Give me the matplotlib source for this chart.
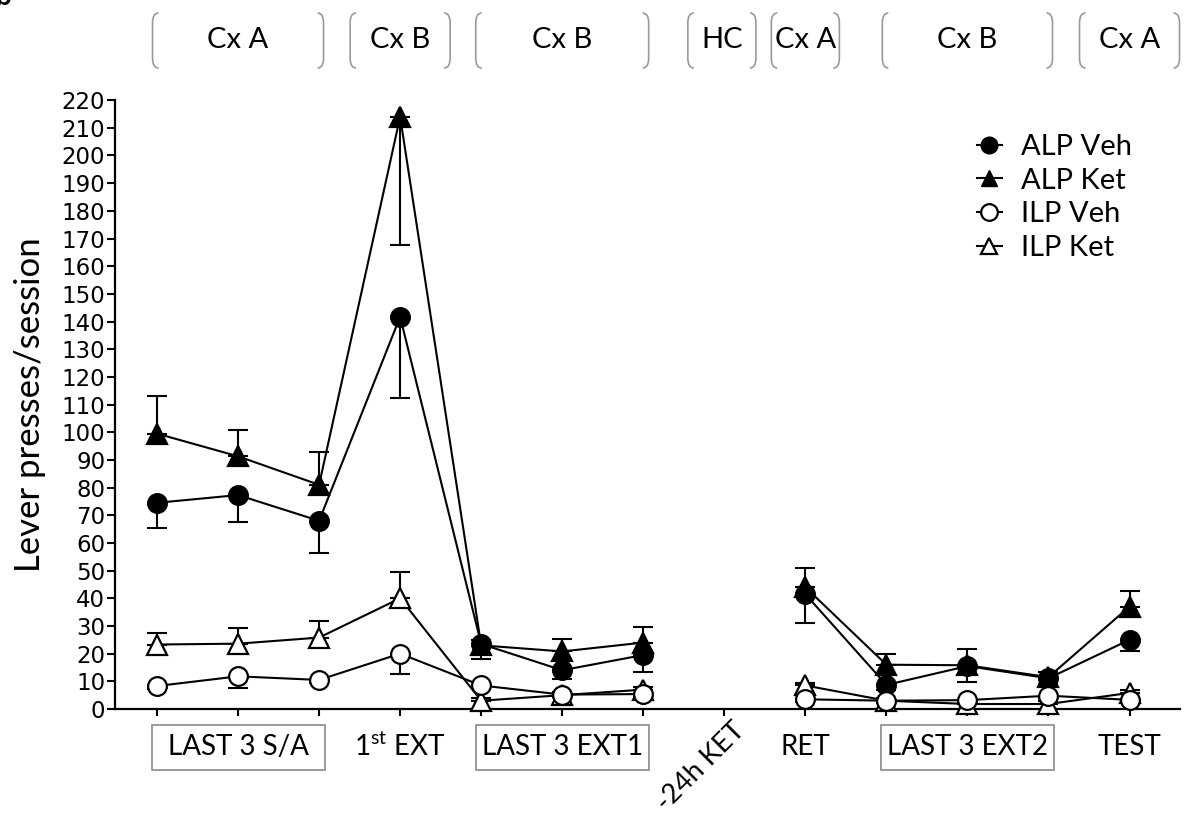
import numpy as np
import matplotlib.pyplot as plt
from matplotlib.path import Path
from matplotlib.patches import PathPatch, Rectangle
from matplotlib.lines import Line2D
from matplotlib.transforms import blended_transform_factory

plt.rcParams['font.family'] = ['Lato', 'DejaVu Sans']
plt.rcParams['mathtext.fontset'] = 'custom'
plt.rcParams['mathtext.rm'] = 'Lato'

nan = np.nan
sessions = np.arange(13)

# mean lever presses per session, one-sided SEM as drawn
alp_veh = [74.5, 77.3, 68.0, 141.7, 23.5, 14.0, 19.5, nan, 41.5, 8.7, 15.5, 11.1, 25.0]
alp_veh_err = [9.0, 9.7, 11.5, 29.2, 5.5, 3.0, 6.3, nan, 10.3, 2.0, 5.6, 2.0, 4.0]
alp_ket = [99.5, 91.3, 81.0, 214.0, 23.0, 20.8, 24.0, nan, 44.0, 16.0, 15.8, 11.5, 37.0]
alp_ket_err = [13.5, 9.5, 12.0, 46.5, 2.0, 4.5, 5.5, nan, 7.0, 4.0, 6.0, 2.0, 5.5]
ilp_veh = [8.3, 11.8, 10.5, 20.0, 8.5, 5.2, 5.4, nan, 3.5, 3.0, 3.2, 4.8, 3.3]
ilp_veh_err = [1.0, 4.3, 1.0, 7.2, 1.0, 1.0, 1.0, nan, 1.0, 1.0, 1.0, 1.0, 1.0]
ilp_ket = [23.3, 23.6, 25.8, 40.0, 3.0, 5.0, 7.0, nan, 8.5, 3.0, 1.8, 1.8, 5.8]
ilp_ket_err = [4.2, 5.6, 6.0, 9.4, 1.0, 1.0, 1.0, nan, 1.0, 1.0, 1.0, 1.0, 1.0]

# bottom labels: (centre session, text, boxed)
phase_labels = [(1, "LAST 3 S/A", True), (3, "1$^{\\mathrm{st}}$ EXT", False),
                (5, "LAST 3 EXT1", True), (8, "RET", False),
                (10, "LAST 3 EXT2", True), (12, "TEST", False)]
# top context brackets: (centre session, half width, text)
contexts = [(1, 1.055, "Cx A"), (3, 0.617, "Cx B"), (5, 1.067, "Cx B"),
            (6.97, 0.42, "HC"), (8, 0.42, "Cx A"), (10, 1.05, "Cx B"),
            (12, 0.617, "Cx A")]

fig = plt.figure(figsize=(11.87, 8.14), dpi=100)
ax = fig.add_axes([0.0969, 0.129, 0.897, 0.748])

# error bars: Veh downward, Ket upward (ALP Ket peak drawn downward)
zeros = np.zeros(13)
alp_ket_lo = np.where(sessions == 3, alp_ket_err, 0)
alp_ket_hi = np.where(sessions == 3, 0, alp_ket_err)
err_kw = dict(fmt='none', ecolor='black', elinewidth=1.5, capsize=7, capthick=1.5,
              clip_on=False, zorder=2)
ax.errorbar(sessions, alp_ket, yerr=[alp_ket_lo, alp_ket_hi], **err_kw)
ax.errorbar(sessions, alp_veh, yerr=[alp_veh_err, zeros], **err_kw)
ax.errorbar(sessions, ilp_ket, yerr=[zeros, ilp_ket_err], **err_kw)
ax.errorbar(sessions, ilp_veh, yerr=[ilp_veh_err, zeros], **err_kw)

line_kw = dict(color='black', lw=1.5, mec='black', mew=1.6, clip_on=False)
ax.plot(sessions, alp_ket, marker='^', ms=14, mfc='black', zorder=3, **line_kw)
ax.plot(sessions, alp_veh, marker='o', ms=13.5, mfc='black', zorder=4, **line_kw)
ax.plot(sessions, ilp_ket, marker='^', ms=14, mfc='white', zorder=5, **line_kw)
ax.plot(sessions, ilp_veh, marker='o', ms=13.5, mfc='white', zorder=6, **line_kw)

ax.set_xlim(-0.518, 12.62)
ax.set_ylim(0, 220)
ax.set_yticks(np.arange(0, 221, 10))
ax.set_xticks(sessions)
ax.set_xticklabels([])
for lab in ax.get_yticklabels():
    lab.set_fontfamily('DejaVu Sans')
ax.tick_params(axis='y', labelsize=16.5, length=6, width=1.5, pad=1)
ax.tick_params(axis='x', length=5, width=1.5)
for side in ['top', 'right']:
    ax.spines[side].set_visible(False)
for side in ['left', 'bottom']:
    ax.spines[side].set_linewidth(1.6)
ax.set_ylabel("Lever presses/session", fontsize=25, labelpad=11)

# bottom phase labels
trans = blended_transform_factory(ax.transData, ax.transAxes)
for xc, txt, boxed in phase_labels:
    ax.text(xc, -0.062, txt, transform=trans, ha='center', va='center', fontsize=20)
    if boxed:
        ax.add_patch(Rectangle((xc - 1.067, -0.100), 2.134, 0.074, transform=trans,
                               fill=False, ec='#8a8a8a', lw=1.2, clip_on=False))
ax.text(7.2, -0.028, "-24h KET", transform=trans, ha='right', va='center',
        rotation=45, rotation_mode='anchor', fontsize=19.5)

# top context brackets
W, H = 1187.0, 814.0
to_fig = ax.transData + fig.transFigure.inverted()
y_top, y_bot, y_txt = 1 - 13 / H, 1 - 68 / H, 1 - 40 / H
hook, rad = 6 / W, 10 / H
for xc, hw, txt in contexts:
    xl = to_fig.transform((xc - hw, 0))[0]
    xr = to_fig.transform((xc + hw, 0))[0]
    for x0, d in [(xl, hook), (xr, -hook)]:
        verts = [(x0 + d, y_top), (x0, y_top), (x0, y_top - rad),
                 (x0, y_bot + rad), (x0, y_bot), (x0 + d, y_bot)]
        codes = [Path.MOVETO, Path.CURVE3, Path.CURVE3,
                 Path.LINETO, Path.CURVE3, Path.CURVE3]
        fig.patches.append(PathPatch(Path(verts, codes), transform=fig.transFigure,
                                     fill=False, ec='#9a9a9a', lw=1.2))
    fig.text((xl + xr) / 2, y_txt, txt, ha='center', va='center', fontsize=21)

fig.text(-0.004, 1.004, "b", fontsize=20, fontweight='bold', va='center', ha='left')

handles = [
    Line2D([], [], color='black', lw=1.5, marker='o', ms=12, mfc='black', mec='black'),
    Line2D([], [], color='black', lw=1.5, marker='^', ms=12, mfc='black', mec='black'),
    Line2D([], [], color='black', lw=1.5, marker='o', ms=12, mfc='white', mec='black', mew=1.6),
    Line2D([], [], color='black', lw=1.5, marker='^', ms=12, mfc='white', mec='black', mew=1.6),
]
fig.legend(handles, ["ALP Veh", "ALP Ket", "ILP Veh", "ILP Ket"], loc='upper left',
           bbox_to_anchor=(977 / W, 1 - 134 / H), bbox_transform=fig.transFigure,
           frameon=False, fontsize=21, handlelength=0.85, handletextpad=0.65,
           labelspacing=0.26, borderpad=0, borderaxespad=0)

fig.savefig("out.png", dpi=100)
